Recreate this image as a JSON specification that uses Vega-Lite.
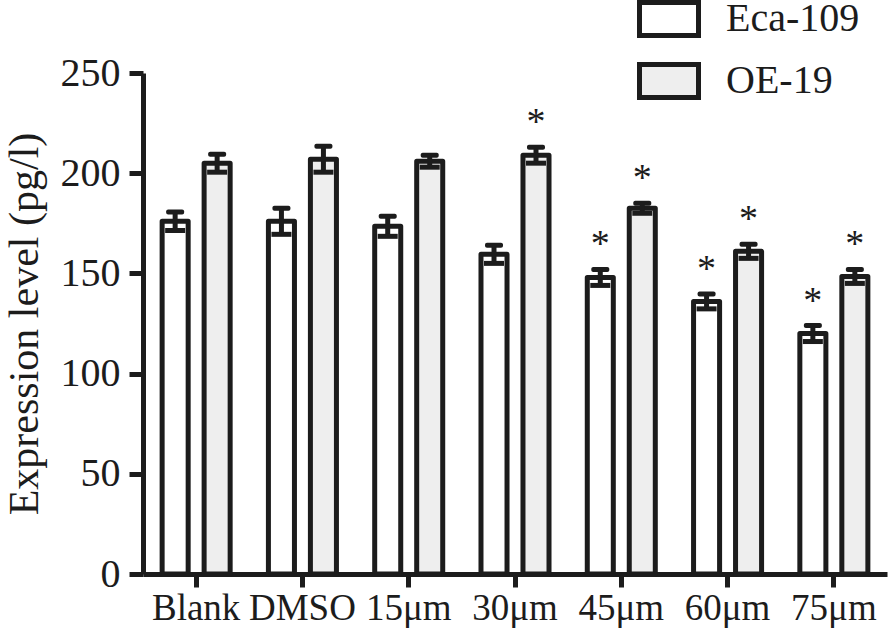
{
  "$schema": "https://vega.github.io/schema/vega-lite/v6.json",
  "autosize": "none",
  "width": 744,
  "height": 501,
  "padding": {"left": 143, "top": 73, "right": 7, "bottom": 58},
  "background": "white",
  "config": {
    "view": {"stroke": null},
    "font": "Liberation Serif",
    "axis": {"domainColor": "#1c1c1c", "tickColor": "#1c1c1c", "labelColor": "#1c1c1c", "titleColor": "#1c1c1c", "labelFont": "Liberation Serif", "titleFont": "Liberation Serif", "titleFontWeight": "normal", "grid": false},
    "legend": {"labelFont": "Liberation Serif"}
  },
  "data": {
    "values": [
      {"group": "Blank", "series": "Eca-109", "value": 176, "lo": 171.4, "hi": 180.6, "star": ""},
      {"group": "Blank", "series": "OE-19", "value": 205, "lo": 200.5, "hi": 209.5, "star": ""},
      {"group": "DMSO", "series": "Eca-109", "value": 176, "lo": 169.5, "hi": 182.5, "star": ""},
      {"group": "DMSO", "series": "OE-19", "value": 207, "lo": 200.5, "hi": 213.5, "star": ""},
      {"group": "15μm", "series": "Eca-109", "value": 173.5, "lo": 168.5, "hi": 178.5, "star": ""},
      {"group": "15μm", "series": "OE-19", "value": 206, "lo": 203, "hi": 209, "star": ""},
      {"group": "30μm", "series": "Eca-109", "value": 159.5, "lo": 155, "hi": 164, "star": ""},
      {"group": "30μm", "series": "OE-19", "value": 209, "lo": 205, "hi": 213, "star": "*"},
      {"group": "45μm", "series": "Eca-109", "value": 148, "lo": 144, "hi": 152, "star": "*"},
      {"group": "45μm", "series": "OE-19", "value": 182.5, "lo": 180, "hi": 185, "star": "*"},
      {"group": "60μm", "series": "Eca-109", "value": 136, "lo": 132.3, "hi": 139.7, "star": "*"},
      {"group": "60μm", "series": "OE-19", "value": 161, "lo": 157.5, "hi": 164.5, "star": "*"},
      {"group": "75μm", "series": "Eca-109", "value": 120, "lo": 116, "hi": 124, "star": "*"},
      {"group": "75μm", "series": "OE-19", "value": 148.5, "lo": 145, "hi": 152, "star": "*"}
    ]
  },
  "encoding": {
    "x": {
      "field": "group", "type": "nominal", "sort": null,
      "scale": {"paddingInner": 0.36, "paddingOuter": 0.18},
      "axis": {"title": null, "labelAngle": 0, "labelFontSize": 37, "labelPadding": 3, "labelDx": 8, "tickSize": 13, "tickWidth": 5, "domainWidth": 5, "labelOverlap": false, "labelLimit": 300}
    },
    "xOffset": {"field": "series", "type": "nominal", "scale": {"paddingInner": 0.38, "paddingOuter": 0}}
  },
  "layer": [
    {
      "mark": {"type": "bar", "stroke": "#1c1c1c", "strokeWidth": 5, "strokeJoin": "round"},
      "encoding": {
        "y": {
          "field": "value", "type": "quantitative",
          "scale": {"domain": [0, 250], "nice": false},
          "axis": {"title": "Expression level (pg/l)", "titleFontSize": 42, "titlePadding": 14, "values": [0, 50, 100, 150, 200, 250], "labelFontSize": 40, "labelPadding": 9, "tickSize": 14, "tickWidth": 5, "domainWidth": 5}
        },
        "fill": {
          "field": "series", "type": "nominal",
          "scale": {"range": ["#ffffff", "#eeeeee"]},
          "legend": {"title": null, "orient": "none", "legendX": 494, "legendY": -86, "symbolType": "M-1,-0.56H1V0.56H-1Z", "symbolSize": 3481, "symbolStrokeColor": "#1c1c1c", "symbolStrokeWidth": 5, "labelFontSize": 40, "labelOffset": 25, "rowPadding": 3, "labelColor": "#1c1c1c"}
        }
      }
    },
    {
      "mark": {"type": "rule", "color": "#1c1c1c", "strokeWidth": 5, "opacity": 1},
      "encoding": {"y": {"field": "lo", "type": "quantitative"}, "y2": {"field": "hi"}}
    },
    {
      "mark": {"type": "tick", "color": "#1c1c1c", "opacity": 1, "thickness": 5, "size": 18, "orient": "horizontal", "cornerRadius": 2},
      "encoding": {"y": {"field": "hi", "type": "quantitative"}}
    },
    {
      "mark": {"type": "tick", "color": "#1c1c1c", "opacity": 1, "thickness": 5, "size": 20, "orient": "horizontal"},
      "encoding": {"y": {"field": "lo", "type": "quantitative"}}
    },
    {
      "transform": [{"filter": "datum.star == '*'"}],
      "mark": {"type": "text", "font": "Liberation Serif", "fontSize": 38, "dy": -13, "baseline": "alphabetic", "color": "#1c1c1c"},
      "encoding": {"y": {"field": "hi", "type": "quantitative"}, "text": {"field": "star"}}
    }
  ]
}
